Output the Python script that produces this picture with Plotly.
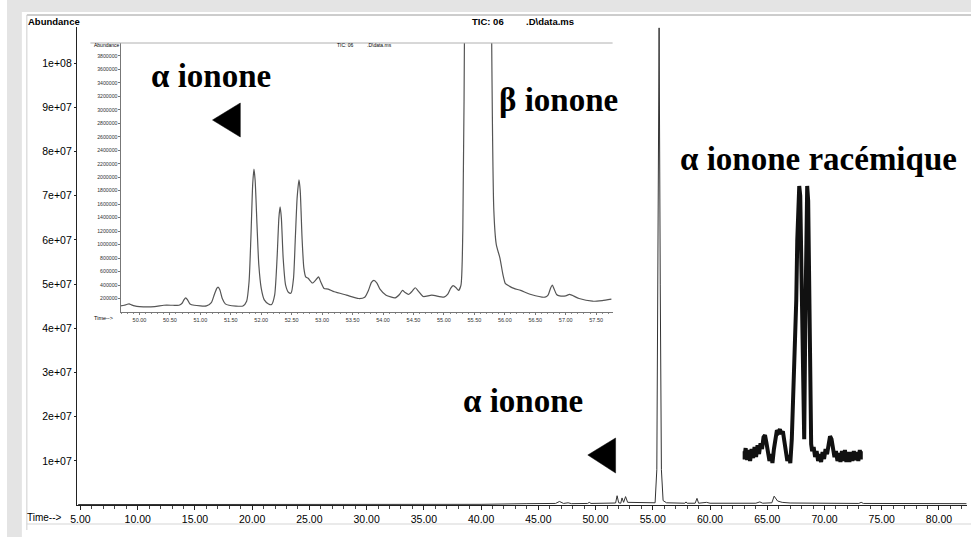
import plotly.graph_objects as go

W, H = 971, 537

# ---------------- data ----------------
# main chromatogram (time in min, abundance)
main_time = [4.8, 20.0, 40.0, 44.0, 46.5, 46.85, 47.2, 47.6, 47.9, 49.3, 49.45, 49.6,
             51.3, 51.75, 51.88, 52.02, 52.2, 52.31, 52.45, 52.62, 52.8, 53.8, 54.5,
             55.2, 55.35, 55.45, 55.55, 55.65, 55.75, 55.9, 56.2, 57.8, 57.9, 58.0,
             58.7, 58.86, 59.0, 59.7, 60.0, 64.0, 64.35, 64.6, 65.4, 65.6, 65.9,
             66.3, 67.0, 73.0, 73.2, 73.4, 82.4]
main_abund = [1.0e5, 1.0e5, 1.5e5, 3.0e5, 3.5e5, 8.0e5, 3.5e5, 5.0e5, 3.0e5, 3.5e5, 6.0e5, 3.5e5,
              4.0e5, 4.5e5, 2.1e6, 5.0e5, 4.0e5, 1.6e6, 6.0e5, 1.9e6, 6.0e5, 6.0e5, 5.0e5,
              5.0e5, 8.0e6, 6.0e7, 1.08e8, 5.0e7, 8.0e6, 1.0e6, 5.0e5, 4.0e5, 7.0e5, 4.0e5,
              4.0e5, 1.5e6, 4.0e5, 6.0e5, 4.0e5, 4.0e5, 7.0e5, 4.0e5, 5.0e5, 2.0e6, 9.0e5,
              6.0e5, 4.5e5, 3.5e5, 6.0e5, 3.5e5, 3.0e5]

main_xtick_vals = [5, 10, 15, 20, 25, 30, 35, 40, 45, 50, 55, 60, 65, 70, 75, 80]
main_xtick_text = ["5.00", "10.00", "15.00", "20.00", "25.00", "30.00", "35.00", "40.00",
                   "45.00", "50.00", "55.00", "60.00", "65.00", "70.00", "75.00", "80.00"]
main_ytick_vals = [1e7, 2e7, 3e7, 4e7, 5e7, 6e7, 7e7, 8e7, 9e7, 1e8]
main_ytick_text = ["1e+07", "2e+07", "3e+07", "4e+07", "5e+07", "6e+07", "7e+07",
                   "8e+07", "9e+07", "1e+08"]

# inset: zoom on 49.7 - 57.8 min
inset_time = [49.69, 49.75, 49.8, 49.83, 49.87, 49.92, 50.0, 50.25, 50.4, 50.55, 50.65,
              50.7, 50.73, 50.76, 50.79, 50.83, 50.9, 51.1, 51.18, 51.23, 51.27, 51.29,
              51.32, 51.36, 51.41, 51.47, 51.7, 51.76, 51.8, 51.83, 51.86, 51.88, 51.9,
              51.93, 51.96, 52.0, 52.05, 52.12, 52.17, 52.22, 52.26, 52.29, 52.31, 52.33,
              52.36, 52.4, 52.45, 52.49, 52.53, 52.56, 52.59, 52.62, 52.64, 52.67, 52.7,
              52.73, 52.77, 52.84, 52.9, 52.94, 52.98, 53.03, 53.1, 53.2, 53.4, 53.6,
              53.7, 53.76, 53.81, 53.85, 53.9, 53.95, 54.05, 54.2, 54.27, 54.32, 54.36,
              54.42, 54.48, 54.53, 54.58, 54.66, 54.8, 55.0, 55.06, 55.11, 55.15, 55.2,
              55.24, 55.28, 55.31, 55.34, 55.45, 55.55, 55.65, 55.78, 55.82, 55.86, 55.92,
              55.97, 56.01, 56.08, 56.15, 56.26, 56.43, 56.66, 56.71, 56.75, 56.78, 56.81,
              56.85, 56.9, 57.0, 57.06, 57.1, 57.22, 57.44, 57.6, 57.75]
inset_abund = [9.0e4, 1.0e5, 1.15e5, 1.2e5, 1.05e5, 9.0e4, 8.0e4, 8.0e4, 1.0e5, 1.0e5, 1.0e5,
               1.3e5, 1.8e5, 2.1e5, 1.8e5, 1.2e5, 1.0e5, 9.0e4, 1.4e5, 2.6e5, 3.5e5, 3.7e5,
               3.3e5, 2.0e5, 1.2e5, 1.0e5, 9.0e4, 1.6e5, 4.5e5, 1.1e6, 1.9e6, 2.12e6, 1.95e6,
               1.3e6, 7.0e5, 3.5e5, 1.8e5, 1.2e5, 1.1e5, 2.5e5, 8.0e5, 1.4e6, 1.56e6, 1.4e6,
               8.0e5, 4.0e5, 2.9e5, 2.8e5, 5.0e5, 1.1e6, 1.7e6, 1.96e6, 1.8e6, 1.1e6, 6.5e5,
               5.2e5, 5.0e5, 4.3e5, 4.8e5, 5.2e5, 4.4e5, 3.5e5, 3.4e5, 3.0e5, 2.5e5, 2.0e5,
               2.2e5, 3.2e5, 4.4e5, 4.7e5, 4.3e5, 3.4e5, 2.5e5, 2.1e5, 2.6e5, 3.2e5, 2.9e5,
               2.6e5, 3.1e5, 3.6e5, 3.1e5, 2.3e5, 2.5e5, 2.2e5, 2.6e5, 3.5e5, 3.9e5, 3.6e5,
               3.2e5, 4.0e5, 1.2e6, 4.5e6, 4.0e7, 1.08e8, 4.0e7, 4.5e6, 1.5e6, 1.0e6, 8.0e5,
               5.5e5, 4.2e5, 3.8e5, 3.5e5, 3.2e5, 2.6e5, 2.2e5, 2.5e5, 3.5e5, 4.0e5, 3.4e5,
               2.6e5, 2.4e5, 2.4e5, 2.6e5, 2.5e5, 2.0e5, 1.6e5, 1.7e5, 1.9e5]

inset_xtick_vals = [50.0, 50.5, 51.0, 51.5, 52.0, 52.5, 53.0, 53.5, 54.0, 54.5, 55.0,
                    55.5, 56.0, 56.5, 57.0, 57.5]
inset_xtick_text = ["50.00", "50.50", "51.00", "51.50", "52.00", "52.50", "53.00", "53.50",
                    "54.00", "54.50", "55.00", "55.50", "56.00", "56.50", "57.00", "57.50"]
inset_ytick_vals = [200000, 400000, 600000, 800000, 1000000, 1200000, 1400000, 1600000,
                    1800000, 2000000, 2200000, 2400000, 2600000, 2800000, 3000000,
                    3200000, 3400000, 3600000, 3800000]

# racemic alpha-ionone trace (arbitrary units, no axes shown)
racemic_t = [0.0, 0.15, 0.3, 0.45, 0.6, 0.75, 0.9, 1.05, 1.2, 1.35, 1.5, 1.65, 1.8, 1.95,
             2.1, 2.25, 2.4, 2.55, 2.7, 2.85, 3.0, 3.15, 3.3, 3.45, 3.6, 3.75, 3.9, 4.05,
             4.2, 4.35, 4.5, 4.65, 4.8, 4.95, 5.1, 5.25, 5.4, 5.5, 5.6, 5.7, 5.8, 5.9, 6.0,
             6.1, 6.2, 6.3, 6.4, 6.5, 6.6, 6.7, 6.8, 6.9, 7.0, 7.15, 7.3, 7.45, 7.6, 7.75,
             7.9, 8.05, 8.2, 8.35, 8.5, 8.65, 8.8, 8.95, 9.1, 9.25, 9.4, 9.55, 9.7, 9.85,
             10.0, 10.15, 10.3, 10.45, 10.6, 10.75, 10.9, 11.05, 11.2, 11.35, 11.5, 11.65,
             11.8, 11.95, 12.1]
racemic_abund = [13, 5, 16, 4, 14, 3, 15, 6, 17, 7, 19, 10, 21, 15, 27, 29, 21, 13, 3, 10,
                 1, 15, 29, 34, 32, 35, 30, 33, 23, 15, 3, 9, 1, 25, 65, 105, 165, 225, 270,
                 280, 270, 205, 115, 35, 25, 135, 235, 280, 265, 165, 45, 20, 13, 17, 7, 13,
                 3, 10, 2, 12, 5, 15, 10, 21, 28, 25, 15, 7, 13, 3, 11, 2, 13, 3, 14, 2, 12,
                 2, 12, 3, 13, 4, 12, 3, 14, 5, 13]


def fx(px):
    return px / W


def fy(py):
    return 1 - py / H


fig = go.Figure()

fig.add_trace(go.Scatter(x=main_time, y=main_abund, mode="lines",
                         line=dict(color="#333333", width=1), xaxis="x", yaxis="y",
                         hoverinfo="skip", showlegend=False))
fig.add_trace(go.Scatter(x=inset_time, y=inset_abund, mode="lines",
                         line=dict(color="#555555", width=1.2, shape="spline", smoothing=0.6),
                         xaxis="x2", yaxis="y2", hoverinfo="skip", showlegend=False))
fig.add_trace(go.Scatter(x=racemic_t, y=racemic_abund, mode="lines",
                         line=dict(color="#111111", width=4), xaxis="x3", yaxis="y3",
                         hoverinfo="skip", showlegend=False))

sans = "Liberation Sans, Arial, sans-serif"
serif = "Liberation Serif, Times New Roman, serif"

fig.update_layout(
    width=W, height=H,
    margin=dict(l=0, r=0, t=0, b=0),
    paper_bgcolor="white", plot_bgcolor="rgba(0,0,0,0)",
    showlegend=False,
    font=dict(family=sans, color="black"),
    xaxis=dict(domain=[fx(71), fx(967)], range=[4.74, 82.45], anchor="y",
               tickvals=main_xtick_vals, ticktext=main_xtick_text,
               ticks="outside", ticklen=4, tickcolor="#222", tickwidth=1,
               minor=dict(dtick=1, tick0=0, ticks="outside", ticklen=2.5, tickcolor="#444"),
               showline=True, linecolor="#222", linewidth=1.2,
               showgrid=False, zeroline=False, tickfont=dict(size=10.5, color="black")),
    yaxis=dict(domain=[fy(505), fy(27)], range=[0, 1.082e8], anchor="x",
               tickvals=main_ytick_vals, ticktext=main_ytick_text,
               ticks="outside", ticklen=2.5, tickcolor="#222",
               showline=True, linecolor="#222", linewidth=1.2,
               showgrid=False, zeroline=False, tickfont=dict(size=10.5, color="black")),
    xaxis2=dict(domain=[fx(114.4), fx(610)], range=[49.69, 57.77], anchor="y2",
                tickvals=inset_xtick_vals, ticktext=inset_xtick_text,
                ticks="outside", ticklen=2, tickcolor="#777", tickwidth=0.8,
                minor=dict(dtick=0.1, tick0=0, ticks="outside", ticklen=1.2, tickcolor="#888"),
                showline=True, linecolor="#777", linewidth=0.8,
                showgrid=False, zeroline=False, tickfont=dict(size=5.5, color="#333")),
    yaxis2=dict(domain=[fy(312), fy(43)], range=[0, 3.99e6], anchor="x2",
                tickvals=inset_ytick_vals, tickformat="d",
                ticks="outside", ticklen=1.2, tickcolor="#777",
                showline=True, linecolor="#777", linewidth=0.8,
                showgrid=False, zeroline=False, tickfont=dict(size=5.2, color="#333")),
    xaxis3=dict(domain=[fx(741), fx(862)], range=[0, 12.1], anchor="y3", visible=False),
    yaxis3=dict(domain=[fy(466), fy(183)], range=[-2, 283], anchor="x3", visible=False),
)

# scan border strips and frame lines
shapes = [
    dict(type="rect", xref="paper", yref="paper", x0=0, x1=1, y0=fy(12), y1=1,
         fillcolor="#e4e4e4", line=dict(width=0), layer="below"),
    dict(type="rect", xref="paper", yref="paper", x0=0, x1=fx(15), y0=0, y1=1,
         fillcolor="#e4e4e4", line=dict(width=0), layer="below"),
    dict(type="line", xref="paper", yref="paper", x0=fx(20), x1=1, y0=fy(15), y1=fy(15),
         line=dict(color="#9a9a9a", width=1)),
    dict(type="line", xref="paper", yref="paper", x0=fx(20), x1=fx(20), y0=fy(530), y1=fy(15),
         line=dict(color="#cfcfcf", width=1)),
    dict(type="line", xref="paper", yref="paper", x0=fx(20), x1=1, y0=fy(524), y1=fy(524),
         line=dict(color="#d5d5d5", width=1)),
    dict(type="line", xref="paper", yref="paper", x0=fx(84), x1=fx(610), y0=fy(43), y1=fy(43),
         line=dict(color="#b0b0b0", width=1)),
    # arrow heads
    dict(type="path", xref="paper", yref="paper",
         path=f"M {fx(207)} {fy(120)} L {fx(235)} {fy(103)} L {fx(235)} {fy(137)} Z",
         fillcolor="black", line=dict(color="black", width=0.5)),
    dict(type="path", xref="paper", yref="paper",
         path=f"M {fx(585)} {fy(455)} L {fx(613)} {fy(438)} L {fx(613)} {fy(473)} Z",
         fillcolor="black", line=dict(color="black", width=0.5)),
]
fig.update_layout(shapes=shapes)


def txt(x, y, s, size, family=sans, color="black", bold=False, xanchor="left"):
    return dict(x=fx(x), y=fy(y), xref="paper", yref="paper", text=s, showarrow=False,
                xanchor=xanchor, yanchor="middle",
                font=dict(size=size, family=family, color=color,
                          weight="bold" if bold else "normal"))


annotations = [
    txt(19, 21, "Abundance", 9.5, bold=True),
    txt(466, 22, "TIC: 06", 9.5, bold=True),
    txt(521, 22, ".D\\data.ms", 9.5, bold=True),
    txt(18, 517, "Time-->", 10),
    txt(86, 45, "Abundance", 5),
    txt(330, 45, "TIC: 06", 5),
    txt(361, 45, ".D\\data.ms", 5),
    txt(86, 318, "Time-->", 5.5),
    txt(143, 76, "α ionone", 33, family=serif, bold=True),
    txt(494, 100, "β ionone", 33, family=serif, bold=True),
    txt(676, 159, "α ionone racémique", 33, family=serif, bold=True),
    txt(457, 401, "α ionone", 33, family=serif, bold=True),
]
fig.update_layout(annotations=annotations)

fig.write_html("out.html", config={"displayModeBar": False},
               post_script="document.body.style.margin='0px';")
